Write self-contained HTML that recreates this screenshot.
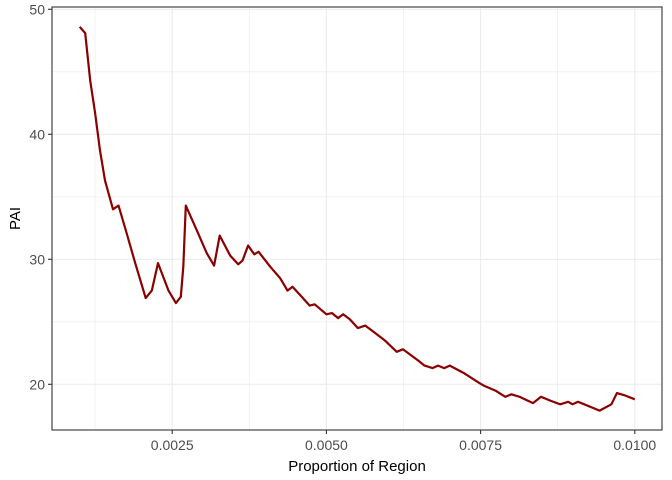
<!DOCTYPE html>
<html><head><meta charset="utf-8"><style>
body{margin:0;background:#fff}
svg{display:block;font-family:"Liberation Sans",Arial,sans-serif}
</style></head><body>
<svg id="chart" width="672" height="480"></svg>
<script>
const xValues=[0.00100,0.00109,0.00117,0.00125,0.00133,0.00141,0.00154,0.00163,0.00176,0.00190,0.00207,0.00217,0.00227,0.00244,0.00256,0.00264,0.00268,0.00272,0.00290,0.00306,0.00318,0.00327,0.00344,0.00357,0.00364,0.00373,0.00383,0.00390,0.00409,0.00425,0.00437,0.00445,0.00460,0.00473,0.00481,0.00500,0.00509,0.00519,0.00527,0.00538,0.00551,0.00563,0.00574,0.00595,0.00614,0.00624,0.00635,0.00649,0.00659,0.00672,0.00681,0.00691,0.00700,0.00723,0.00748,0.00755,0.00774,0.00790,0.00800,0.00813,0.00835,0.00848,0.00863,0.00879,0.00892,0.00899,0.00908,0.00943,0.00962,0.00971,0.00985,0.01000];
const paiValues=[48.6,48.1,44.3,41.7,38.7,36.3,34.0,34.3,32.1,29.7,26.9,27.5,29.7,27.5,26.5,27.0,29.4,34.3,32.3,30.5,29.5,31.9,30.3,29.6,29.9,31.1,30.4,30.6,29.4,28.5,27.5,27.8,27.0,26.3,26.4,25.6,25.7,25.3,25.6,25.2,24.5,24.7,24.3,23.5,22.6,22.8,22.4,21.9,21.5,21.3,21.5,21.3,21.5,20.9,20.1,19.9,19.5,19.0,19.2,19.0,18.5,19.0,18.7,18.4,18.6,18.4,18.6,17.9,18.4,19.3,19.1,18.8];
const xTicks=[0.0025,0.0050,0.0075,0.0100];
const xTickLabels=["0.0025","0.0050","0.0075","0.0100"];
const xMinor=[0.00125,0.00375,0.00625,0.00875];
const yTicks=[20,30,40,50];
const yMinor=[25,35,45];

const NS="http://www.w3.org/2000/svg";
const svg=document.getElementById('chart');
const L=52,R=662,T=7,B=430;
const xs=v=>172.2+(v-0.0025)/0.0025*154.2;
const ys=v=>384.3-(v-20)*12.5;
function mk(tag,attrs,parent){const e=document.createElementNS(NS,tag);for(const k in attrs)e.setAttribute(k,attrs[k]);(parent||svg).appendChild(e);return e;}
const grid=mk('g',{});


xMinor.forEach(v=>{mk('line',{x1:xs(v),x2:xs(v),y1:T,y2:B,stroke:'#ebebeb','stroke-width':0.6},grid);});
yMinor.forEach(v=>{mk('line',{x1:L,x2:R,y1:ys(v),y2:ys(v),stroke:'#ebebeb','stroke-width':0.6},grid);});
xTicks.forEach(v=>{mk('line',{x1:xs(v),x2:xs(v),y1:T,y2:B,stroke:'#ebebeb','stroke-width':1.1},grid);});
yTicks.forEach(v=>{mk('line',{x1:L,x2:R,y1:ys(v),y2:ys(v),stroke:'#ebebeb','stroke-width':1.1},grid);});
const line=mk('polyline',{points:xValues.map((x,i)=>xs(x).toFixed(1)+','+ys(paiValues[i]).toFixed(1)).join(' '),fill:'none',stroke:'#8b0000','stroke-width':2.2,'stroke-linejoin':'round'});


const frame=mk('rect',{x:L,y:T,width:R-L,height:B-T,fill:'none',stroke:'#333','stroke-width':1.1});


xTicks.forEach((v,i)=>{
  mk('line',{x1:xs(v),x2:xs(v),y1:B,y2:B+4,stroke:'#333','stroke-width':1.1});
  const t=mk('text',{x:xs(v),y:B+20,'text-anchor':'middle','font-size':14,fill:'#4d4d4d'});
  t.textContent=xTickLabels[i];
  
  
});
yTicks.forEach(v=>{
  mk('line',{x1:L-4,x2:L,y1:ys(v),y2:ys(v),stroke:'#333','stroke-width':1.1});
  const t=mk('text',{x:L-7,y:ys(v)+5,'text-anchor':'end','font-size':14,fill:'#4d4d4d'});
  t.textContent=String(v);
  
  
});
const xt=mk('text',{x:(L+R)/2,y:471,'text-anchor':'middle','font-size':15,fill:'#000'});
xt.textContent='Proportion of Region';


const yt=mk('text',{x:20,y:(T+B)/2,'text-anchor':'middle','font-size':15,fill:'#000',transform:'rotate(-90 20 '+((T+B)/2)+')'});
yt.textContent='PAI';


</script>
</body></html>
